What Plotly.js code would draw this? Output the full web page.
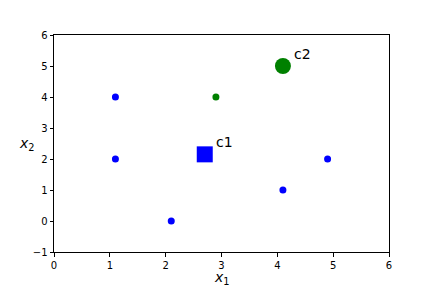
<!DOCTYPE html>
<html><head><meta charset="utf-8">
<script src="https://cdn.plot.ly/plotly-3.0.1.min.js"></script>
<style>body{margin:0;padding:0;background:#fff}#plot{width:432px;height:288px}</style>
</head><body><div id="plot"></div>
<script>
const blueX = [1.1, 1.1, 2.1, 4.1, 4.9];
const blueY = [4, 2, 0, 1, 2];
const greenX = [2.9];
const greenY = [4];
const centroidNames = ["c1", "c2"];
const centroidX = [2.7, 4.1];
const centroidY = [2.15, 5.0];
const centroidColors = ["blue", "green"];
const centroidSymbols = ["square", "circle"];
const xTicks = [0, 1, 2, 3, 4, 5, 6];
const yTicks = [-1, 0, 1, 2, 3, 4, 5, 6];

const font = {family: "DejaVu Sans", size: 10, color: "#000"};
const traces = [
  {x: blueX, y: blueY, mode: "markers", type: "scatter", marker: {color: "blue", size: 7, opacity: 1, line: {width: 0}}, hoverinfo: "none"},
  {x: greenX, y: greenY, mode: "markers", type: "scatter", marker: {color: "green", size: 7, opacity: 1, line: {width: 0}}, hoverinfo: "none"},
  {x: centroidX, y: centroidY, mode: "markers", type: "scatter",
   marker: {color: centroidColors, size: [16, 16], symbol: centroidSymbols, opacity: 1, line: {width: 0}}, hoverinfo: "none"}
];
const annotations = centroidNames.map((n, i) => ({
  x: centroidX[i] + 0.2, y: centroidY[i] + 0.2, xref: "x", yref: "y",
  text: n, showarrow: false, xanchor: "left", yanchor: "bottom",
  font: {family: "DejaVu Sans", size: 14, color: "#000"}, xshift: -2, yshift: -4
}));
annotations.push({x: 0, y: 0.5, xref: "paper", yref: "paper", text: "<i>x</i><sub>2</sub>",
  showarrow: false, xanchor: "right", yanchor: "middle", xshift: -17,
  font: {family: "DejaVu Sans", size: 14, color: "#000"}});
annotations.push({x: 0.5, y: 0, xref: "paper", yref: "paper", text: "<i>x</i><sub>1</sub>",
  showarrow: false, xanchor: "center", yanchor: "top", yshift: -15,
  font: {family: "DejaVu Sans", size: 14, color: "#000"}});

const axisCommon = {showgrid: false, zeroline: false, showline: true, linecolor: "#000", linewidth: 1,
  mirror: true, ticks: "outside", ticklen: 3.5, tickwidth: 1, tickcolor: "#000", tickfont: font};
const layout = {
  width: 432, height: 288, showlegend: false,
  margin: {l: 54, r: 43, t: 35, b: 36},
  paper_bgcolor: "#fff", plot_bgcolor: "#fff",
  xaxis: Object.assign({}, axisCommon, {range: [0, 6], tickvals: xTicks, ticktext: xTicks.map(String)}),
  yaxis: Object.assign({}, axisCommon, {range: [-1, 6], tickvals: yTicks, ticktext: yTicks.map(v => v < 0 ? "\u2212" + Math.abs(v) : String(v))}),
  annotations: annotations
};
Plotly.newPlot("plot", traces, layout, {staticPlot: true, displayModeBar: false});
</script></body></html>
